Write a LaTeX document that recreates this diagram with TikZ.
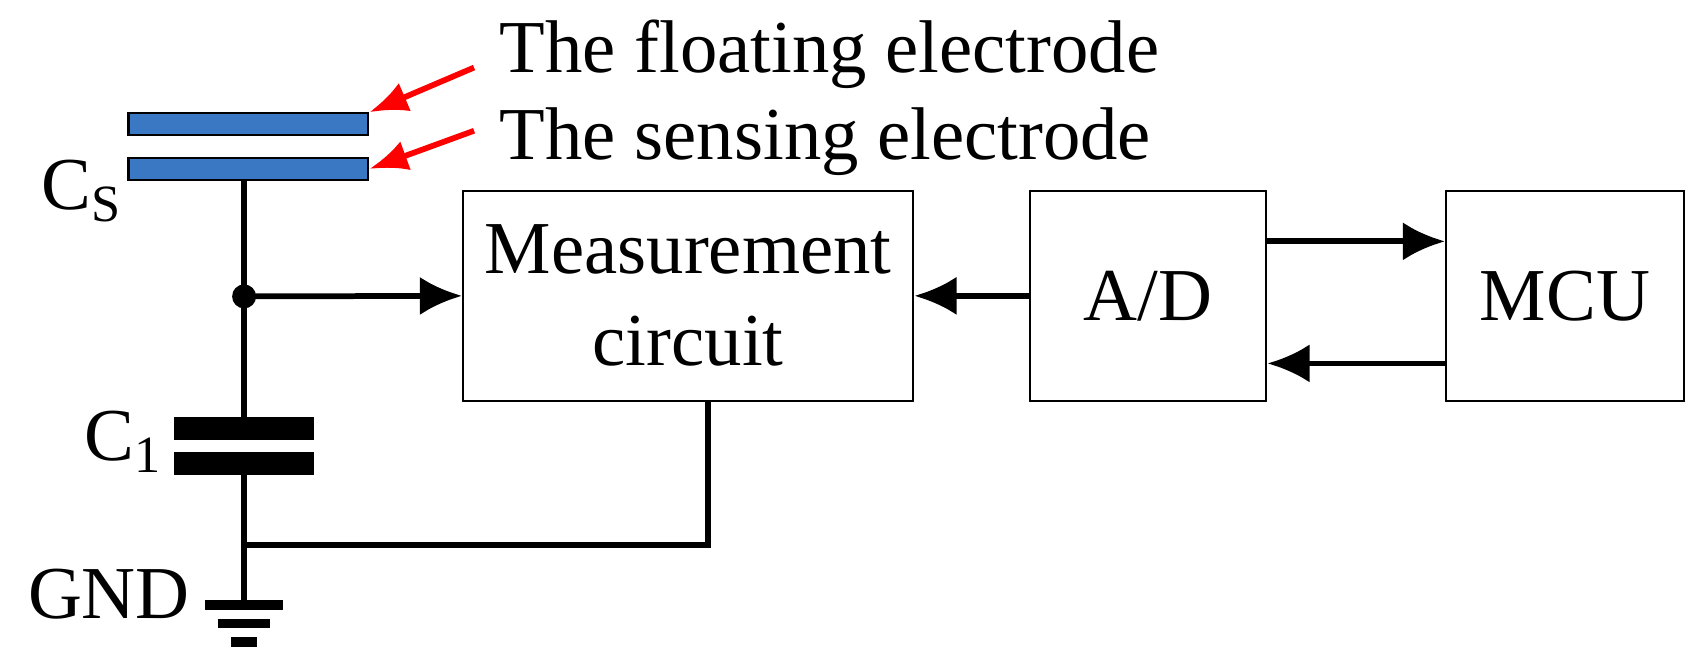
\documentclass[tikz,border=0pt]{standalone}
\usepackage{fontspec}
\setmainfont{Liberation Serif}
\usetikzlibrary{arrows.meta}
\definecolor{elec}{RGB}{58,120,196}
\begin{document}
\begin{tikzpicture}[x=1cm,y=-1cm,
	blk/.style={draw, line width=0.6pt, font=\fontsize{19.5pt}{24pt}\selectfont, align=center},
	wire/.style={line width=1.5pt},
	sig/.style={wire, -{Latex[length=11pt,width=10pt]}},
	plate/.style={draw, fill=elec, line width=0.6pt},
	lbl/.style={font=\fontsize{19.5pt}{24pt}\selectfont, inner sep=0pt}]
	\useasboundingbox (0,0) rectangle (15.6,6.13);
	% electrodes
	\node[plate, minimum width=2.2cm, minimum height=0.2cm, inner sep=0pt] (fe) at (2.28,1.14) {};
	\node[plate, minimum width=2.2cm, minimum height=0.2cm, inner sep=0pt] (se) at (2.28,1.55) {};
	\node[lbl, anchor=west] (tfe) at (4.58,0.5) {The floating electrode};
	\node[lbl, anchor=west] (tse) at (4.58,1.3) {The sensing electrode};
	\node[lbl] (cs) at (0.75,1.75) {C\textsubscript{S}};
	\coordinate (fa) at (4.35,0.62);
	\coordinate (sa) at (4.35,1.2);
	\draw[red, line width=1.5pt, -{Latex[length=10pt,width=8pt]}] (fa) -- (fe.north east);
	\draw[red, line width=1.5pt, -{Latex[length=10pt,width=8pt]}] (sa) -- (se.east);
	% blocks
	\node[blk, minimum width=4.13cm, minimum height=1.93cm] (meas) at (6.315,2.715) {Measurement\\circuit};
	\node[blk, minimum width=2.17cm, minimum height=1.93cm] (ad) at (10.535,2.715) {A/D};
	\node[blk, minimum width=2.18cm, minimum height=1.93cm] (mcu) at (14.36,2.715) {MCU};
	% circuit
	\coordinate (top) at (2.24,1.65);
	\coordinate (jn) at (2.24,2.72);
	\coordinate (c1a) at (2.24,3.93);
	\coordinate (c1b) at (2.24,4.25);
	\coordinate (gn) at (2.24,5.0);
	\coordinate (gt) at (2.24,5.55);
	\coordinate (mb) at (6.5,5.0);
	\draw[wire] (top) -- (c1a);
	\draw[wire] (c1b) -- (gt);
	\fill (jn) circle (0.11);
	\draw[sig] (jn) -- (meas.west);
	\draw[line width=6pt] (1.6,3.93) -- (2.88,3.93);
	\draw[line width=6pt] (1.6,4.25) -- (2.88,4.25);
	\node[lbl] (c1) at (1.13,4.05) {C\textsubscript{1}};
	\draw[wire] (gn) -- (mb) -- (mb |- meas.south);
	% ground
	\draw[line width=2.5pt] (1.88,5.55) -- (2.6,5.55);
	\draw[line width=2.5pt] (2.0,5.72) -- (2.48,5.72);
	\draw[line width=2.5pt] (2.12,5.89) -- (2.36,5.89);
	\node[lbl] (gnd) at (1.0,5.45) {GND};
	% signals
	\draw[sig] (ad.west) -- (meas.east);
	\draw[sig] ([yshift=0.5cm]ad.east) -- ([yshift=0.5cm]mcu.west);
	\draw[sig] ([yshift=-0.62cm]mcu.west) -- ([yshift=-0.62cm]ad.east);
\end{tikzpicture}
\end{document}
